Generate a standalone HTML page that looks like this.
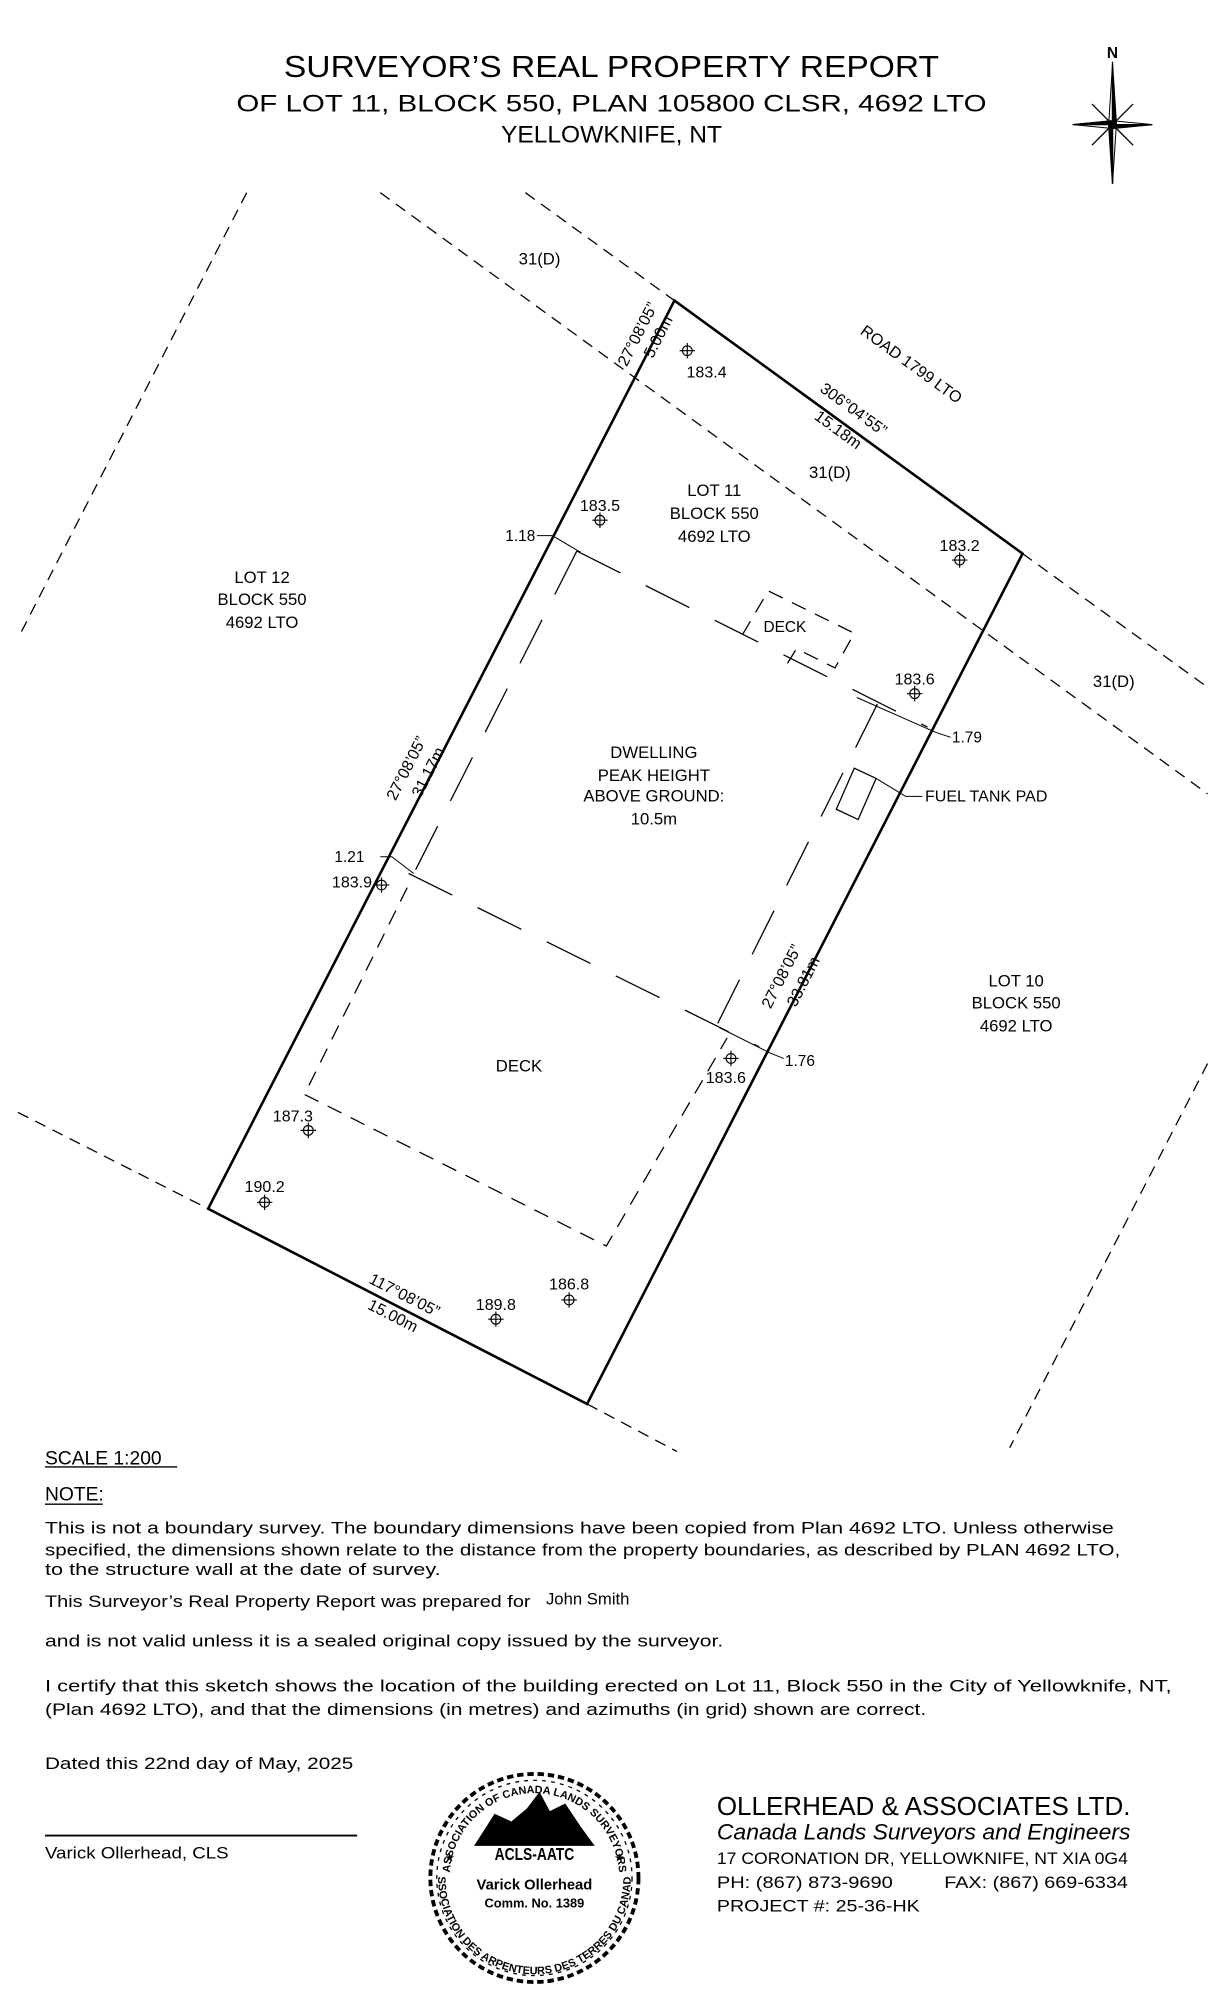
<!DOCTYPE html>
<html><head><meta charset="utf-8"><style>
html,body{margin:0;padding:0;background:#fff}
svg{display:block}
text{font-family:"Liberation Sans",sans-serif;fill:#000}
</style></head><body>
<svg width="1214" height="2000" viewBox="0 0 945 1557" preserveAspectRatio="none" xmlns="http://www.w3.org/2000/svg">
<rect width="945" height="1557" fill="#fff"/>
<text x="476" y="60" font-size="24" text-anchor="middle" textLength="510" lengthAdjust="spacingAndGlyphs">SURVEYOR’S REAL PROPERTY REPORT</text>
<text x="476" y="87" font-size="19" text-anchor="middle" textLength="584" lengthAdjust="spacingAndGlyphs">OF LOT 11, BLOCK 550, PLAN 105800 CLSR, 4692 LTO</text>
<text x="476" y="111" font-size="19" text-anchor="middle" textLength="172" lengthAdjust="spacingAndGlyphs">YELLOWKNIFE, NT</text>
<g stroke="#000" fill="#000">
<text x="866" y="45" font-size="12" font-weight="bold" text-anchor="middle" font-family="Liberation Serif" stroke="none">N</text>
<line x1="866" y1="48" x2="866" y2="143" stroke-width="1"/>
<polygon points="866,50 869,97 866,97" />
<polygon points="866,143 863,97 866,97" />
<polygon points="835,97 866,94 866,97" />
<polygon points="897,97 866,100 866,97" />
<polygon points="850,81 866,97 862,93"/>
<polygon points="882,113 866,97 870,101"/>
<polygon points="882,81 866,97 870,93"/>
<polygon points="850,113 866,97 862,101"/>
<polygon points="866,50 863,97 866,97 869,97 866,143" fill="none" stroke-width="0.8"/>
<polygon points="835,97 866,100 897,97 866,94" fill="none" stroke-width="0.8"/>
</g>
<g stroke="#000" stroke-width="1" stroke-dasharray="9,6" fill="none">
<line x1="192" y1="150" x2="14" y2="497"/>
<line x1="296" y1="150" x2="940" y2="618"/>
<line x1="409" y1="150" x2="525" y2="234"/>
<line x1="796" y1="431" x2="940" y2="535"/>
<line x1="14" y1="866" x2="162" y2="941"/>
<line x1="457" y1="1093" x2="527" y2="1130"/>
<line x1="940" y1="828" x2="786" y2="1127"/>
</g>
<polygon points="525,234 796,431 457,1093 162,941" fill="none" stroke="#000" stroke-width="2"/>
<g stroke="#000" stroke-width="1" fill="none" stroke-dasharray="38,22">
<line x1="449" y1="429" x2="722" y2="566"/>
<line x1="449" y1="429" x2="318" y2="688"/>
<line x1="318" y1="680" x2="591" y2="815"/>
<line x1="683" y1="548" x2="558" y2="798"/>
</g>
<g stroke="#000" stroke-width="1" fill="none" stroke-dasharray="12,8">
<polyline points="317,691 237,852 472,970 566,808"/>
<polyline points="578,494 598,460 665,493 650,520 620,505 612,518"/>
</g>
<text x="611" y="492" font-size="12" text-anchor="middle">DECK</text>
<polygon points="665,598 682,606 668,638 651,630" fill="none" stroke="#000" stroke-width="1"/>
<polyline points="682,606 705,620 718,620" fill="none" stroke="#000" stroke-width="0.8"/>
<text x="720" y="624" font-size="12.5">FUEL TANK PAD</text>
<g stroke="#000" stroke-width="0.8" fill="none">
<polyline points="418,417 430,417 452,430"/>
<polyline points="296,667 305,667 322,680"/>
<polyline points="667,543 728,570 740,574"/>
<polyline points="560,800 600,820 610,824"/>
</g>
<g font-size="12">
<text x="405" y="421" text-anchor="middle">1.18</text>
<text x="741" y="578">1.79</text>
<text x="272" y="671" text-anchor="middle">1.21</text>
<text x="611" y="830">1.76</text>
</g>
<g stroke="#000" stroke-width="0.9" fill="none">
<circle cx="535" cy="273" r="3.8"/><path d="M529,273h12M535,267v12"/>
<circle cx="467" cy="405" r="3.8"/><path d="M461,405h12M467,399v12"/>
<circle cx="747" cy="436" r="3.8"/><path d="M741,436h12M747,430v12"/>
<circle cx="712" cy="540" r="3.8"/><path d="M706,540h12M712,534v12"/>
<circle cx="297" cy="689" r="3.8"/><path d="M291,689h12M297,683v12"/>
<circle cx="569" cy="824" r="3.8"/><path d="M563,824h12M569,818v12"/>
<circle cx="240" cy="880" r="3.8"/><path d="M234,880h12M240,874v12"/>
<circle cx="206" cy="936" r="3.8"/><path d="M200,936h12M206,930v12"/>
<circle cx="386" cy="1027" r="3.8"/><path d="M380,1027h12M386,1021v12"/>
<circle cx="443" cy="1012" r="3.8"/><path d="M437,1012h12M443,1006v12"/>
</g>
<g font-size="12.5" text-anchor="middle">
<text x="550" y="294">183.4</text>
<text x="467" y="398">183.5</text>
<text x="747" y="429">183.2</text>
<text x="712" y="533">183.6</text>
<text x="274" y="691">183.9</text>
<text x="565" y="843">183.6</text>
<text x="228" y="873">187.3</text>
<text x="206" y="928">190.2</text>
<text x="386" y="1020">189.8</text>
<text x="443" y="1004">186.8</text>
</g>
<g font-size="13" text-anchor="middle">
<text x="556" y="386">LOT 11</text><text x="556" y="404">BLOCK 550</text><text x="556" y="422">4692 LTO</text>
<text x="204" y="454">LOT 12</text><text x="204" y="471">BLOCK 550</text><text x="204" y="489">4692 LTO</text>
<text x="791" y="768">LOT 10</text><text x="791" y="785">BLOCK 550</text><text x="791" y="803">4692 LTO</text>
<text x="509" y="590">DWELLING</text><text x="509" y="608">PEAK HEIGHT</text><text x="509" y="624">ABOVE GROUND:</text><text x="509" y="642">10.5m</text>
<text x="404" y="834">DECK</text>
<text x="420" y="206">31(D)</text>
<text x="646" y="372">31(D)</text>
<text x="867" y="535">31(D)</text>
</g>
<g font-size="12.5" text-anchor="middle">
<text transform="translate(707,287) rotate(36)">ROAD 1799 LTO</text>
<text transform="translate(662,322) rotate(36)">306°04’55”</text>
<text transform="translate(650,338) rotate(36)">15.18m</text>
<text transform="translate(500,262) rotate(-63)">27°08’05”</text>
<text transform="translate(516,264) rotate(-63)">5.00m</text>
<text transform="translate(320,600) rotate(-63)">27°08’05”</text>
<text transform="translate(337,603) rotate(-63)">31.17m</text>
<text transform="translate(612,762) rotate(-63)">27°08’05”</text>
<text transform="translate(629,766) rotate(-63)">33.81m</text>
<text transform="translate(313,1012) rotate(27)">117°08’05”</text>
<text transform="translate(304,1028) rotate(27)">15.00m</text>
</g>
<g font-size="13">
<text x="35" y="1140" font-size="15">SCALE 1:200</text>
<line x1="35" y1="1142" x2="138" y2="1142" stroke="#000" stroke-width="1"/>
<text x="35" y="1168" font-size="15">NOTE:</text>
<line x1="35" y1="1171" x2="80" y2="1171" stroke="#000" stroke-width="1"/>
<text x="35" y="1194" textLength="832" lengthAdjust="spacingAndGlyphs">This is not a boundary survey. The boundary dimensions have been copied from Plan 4692 LTO. Unless otherwise</text>
<text x="35" y="1211" textLength="837" lengthAdjust="spacingAndGlyphs">specified, the dimensions shown relate to the distance from the property boundaries, as described by PLAN 4692 LTO,</text>
<text x="35" y="1226" textLength="308" lengthAdjust="spacingAndGlyphs">to the structure wall at the date of survey.</text>
<text x="35" y="1251" textLength="378" lengthAdjust="spacingAndGlyphs">This Surveyor’s Real Property Report was prepared for</text>
<text x="425" y="1249">John Smith</text>
<text x="35" y="1282" textLength="528" lengthAdjust="spacingAndGlyphs">and is not valid unless it is a sealed original copy issued by the surveyor.</text>
<text x="35" y="1317" textLength="877" lengthAdjust="spacingAndGlyphs">I certify that this sketch shows the location of the building erected on Lot 11, Block 550 in the City of Yellowknife, NT,</text>
<text x="35" y="1335" textLength="686" lengthAdjust="spacingAndGlyphs">(Plan 4692 LTO), and that the dimensions (in metres) and azimuths (in grid) shown are correct.</text>
<text x="35" y="1377" textLength="240" lengthAdjust="spacingAndGlyphs">Dated this 22nd day of May, 2025</text>
<line x1="35" y1="1429" x2="278" y2="1429" stroke="#000" stroke-width="1.5"/>
<text x="35" y="1447" textLength="143" lengthAdjust="spacingAndGlyphs">Varick Ollerhead, CLS</text>
</g>
<g>
<circle cx="416" cy="1462" r="81" fill="none" stroke="#000" stroke-width="3" stroke-dasharray="5,3"/>
<circle cx="416" cy="1462" r="76" fill="none" stroke="#000" stroke-width="1" stroke-dasharray="3,4"/>
<defs>
<path id="ta" d="M350,1462 A66,66 0 0 1 482,1462"/>
<path id="ba" d="M341,1462 A75,75 0 0 0 491,1462"/>
</defs>
<text font-size="8.5" font-weight="bold"><textPath href="#ta" startOffset="50%" text-anchor="middle">ASSOCIATION OF CANADA LANDS SURVEYORS</textPath></text>
<text font-size="8.5" font-weight="bold"><textPath href="#ba" startOffset="50%" text-anchor="middle">ASSOCIATION DES ARPENTEURS DES TERRES DU CANADA</textPath></text>
<polygon points="369,1437 385,1412 398,1418 410,1408 420,1395 428,1410 440,1404 452,1422 463,1437" fill="#000"/>
<text x="416" y="1448" font-size="14" font-weight="bold" text-anchor="middle" textLength="62" lengthAdjust="spacingAndGlyphs">ACLS-AATC</text>
<text x="416" y="1471" font-size="11.5" font-weight="bold" text-anchor="middle">Varick  Ollerhead</text>
<text x="416" y="1485" font-size="10" font-weight="bold" text-anchor="middle">Comm. No. 1389</text>
<text x="346" y="1449" font-size="9">★</text><text x="478" y="1449" font-size="9">★</text>
</g>
<text x="558" y="1413" font-family="Liberation Serif" font-size="20" textLength="322" lengthAdjust="spacingAndGlyphs">OLLERHEAD &amp; ASSOCIATES LTD.</text>
<text x="558" y="1432" font-family="Liberation Serif" font-style="italic" font-size="17" textLength="322" lengthAdjust="spacingAndGlyphs">Canada Lands Surveyors and Engineers</text>
<g font-size="13">
<text x="558" y="1451" textLength="320" lengthAdjust="spacingAndGlyphs">17 CORONATION DR, YELLOWKNIFE, NT XIA 0G4</text>
<text x="558" y="1470" textLength="137" lengthAdjust="spacingAndGlyphs">PH: (867) 873-9690</text>
<text x="735" y="1470" textLength="143" lengthAdjust="spacingAndGlyphs">FAX: (867) 669-6334</text>
<text x="558" y="1488" textLength="158" lengthAdjust="spacingAndGlyphs">PROJECT #: 25-36-HK</text>
</g>
</svg>
</body></html>
